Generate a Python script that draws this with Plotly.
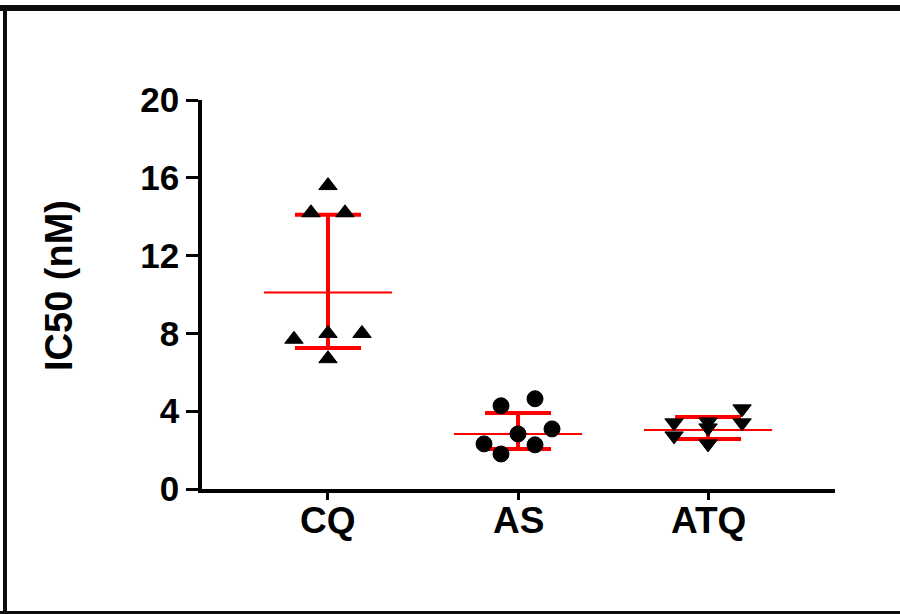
import plotly.graph_objects as go

# ---------------- data ----------------
categories = ["CQ", "AS", "ATQ"]
cq_values = [15.6, 14.2, 14.2, 8.0, 8.0, 7.7, 6.7]
as_values = [4.64, 4.28, 3.09, 2.83, 2.32, 2.27, 1.80]
atq_values = [4.12, 3.45, 3.40, 3.40, 3.14, 2.73, 2.32]
group_means = [10.1, 2.83, 3.03]
bar_upper = [14.1, 3.91, 3.70]
bar_lower = [7.25, 2.06, 2.57]
y_ticks = [0, 4, 8, 12, 16, 20]
y_title = "IC50 (nM)"

groups = [cq_values, as_values, atq_values]
symbols = ["triangle-up", "circle", "triangle-down"]
sizes = [16, 16, 16]

# ---------------- layout geometry (pixels) ----------------
W, H = 900, 614
L, R, T, B = 202, 65, 100, 125
plot_w = W - L - R
plot_h = H - T - B
y_range = [0, 20]
x_range = [-0.663, 2.668]
px_per_unit_y = plot_h / (y_range[1] - y_range[0])
px_per_cat = plot_w / (x_range[1] - x_range[0])


def swarm_offsets(vals, row_gap_px=18, step_px=34, max_row=3):
    """Simple beeswarm: chain close values into rows, spread rows symmetrically."""
    order = sorted(range(len(vals)), key=lambda i: -vals[i])
    rows, cur = [], []
    for i in order:
        if cur and ((vals[cur[-1]] - vals[i]) * px_per_unit_y > row_gap_px or len(cur) >= max_row):
            rows.append(cur)
            cur = []
        cur.append(i)
    if cur:
        rows.append(cur)
    offs = [0.0] * len(vals)
    step = step_px / px_per_cat
    for row in rows:
        row_sorted = sorted(row, key=lambda i: vals[i])
        n = len(row_sorted)
        for j, i in enumerate(row_sorted):
            offs[i] = (j - (n - 1) / 2) * step
    return offs


fig = go.Figure()

# mean lines (thin, wide)
mean_half = 0.337
for gi, m in enumerate(group_means):
    fig.add_trace(go.Scatter(
        x=[gi - mean_half, gi + mean_half], y=[m, m], mode="lines",
        line=dict(color="#ff0000", width=2), hoverinfo="skip", showlegend=False))

# error bars (thick)
fig.add_trace(go.Scatter(
    x=list(range(len(categories))), y=group_means, mode="markers",
    marker=dict(size=1, color="rgba(0,0,0,0)"),
    error_y=dict(type="data", symmetric=False,
                 array=[u - m for u, m in zip(bar_upper, group_means)],
                 arrayminus=[m - l for l, m in zip(bar_lower, group_means)],
                 color="#ff0000", thickness=4, width=33),
    hoverinfo="skip", showlegend=False))

# points
for gi, vals in enumerate(groups):
    offs = swarm_offsets(vals)
    fig.add_trace(go.Scatter(
        x=[gi + o for o in offs], y=vals, mode="markers",
        marker=dict(symbol=symbols[gi], size=sizes[gi], color="black",
                    line=dict(color="black", width=1)),
        name=categories[gi], showlegend=False))

font_family = "Liberation Sans, Arial, Helvetica, sans-serif"


def px_x(p):
    return (p - L) / plot_w


def px_y(p):
    return (H - B - p) / plot_h


fig.update_layout(
    width=W, height=H,
    margin=dict(l=L, r=R, t=T, b=B),
    paper_bgcolor="white", plot_bgcolor="white",
    showlegend=False,
    xaxis=dict(range=x_range, tickmode="array", tickvals=list(range(len(categories))),
               ticktext=categories, showticklabels=False, showgrid=False, zeroline=False,
               showline=True, linecolor="black", linewidth=3.5,
               ticks="outside", ticklen=7, tickwidth=3, tickcolor="black"),
    yaxis=dict(range=y_range, tickmode="array", tickvals=y_ticks,
               showgrid=False, zeroline=False,
               showline=True, linecolor="black", linewidth=3.5,
               ticks="outside", ticklen=12, tickwidth=3, tickcolor="black",
               tickfont=dict(family=font_family, size=35, color="black", weight="bold")),
)

# category labels placed under their ticks
for gi, c in enumerate(categories):
    fig.add_annotation(
        text=c, showarrow=False, xref="x", yref="paper",
        x=gi, y=px_y(498), xanchor="center", yanchor="top",
        font=dict(family=font_family, size=37, color="black", weight="bold"))

fig.add_annotation(
    text=y_title, textangle=-90, showarrow=False,
    xref="paper", yref="paper",
    x=px_x(59), y=px_y(286),
    xanchor="center", yanchor="middle",
    font=dict(family=font_family, size=38, color="black", weight="bold"))

# outer frame
frame_color = "#0c0c0c"
frame = [
    (px_x(0), px_y(8), px_x(900), px_y(8), 6),
    (px_x(5), px_y(5), px_x(5), px_y(614), 4),
    (px_x(0), px_y(612.5), px_x(900), px_y(612.5), 3),
]
for x0, y0, x1, y1, w in frame:
    fig.add_shape(type="line", xref="paper", yref="paper",
                  x0=x0, y0=y0, x1=x1, y1=y1,
                  line=dict(color=frame_color, width=w), layer="above")

fig.write_html("out.html")
